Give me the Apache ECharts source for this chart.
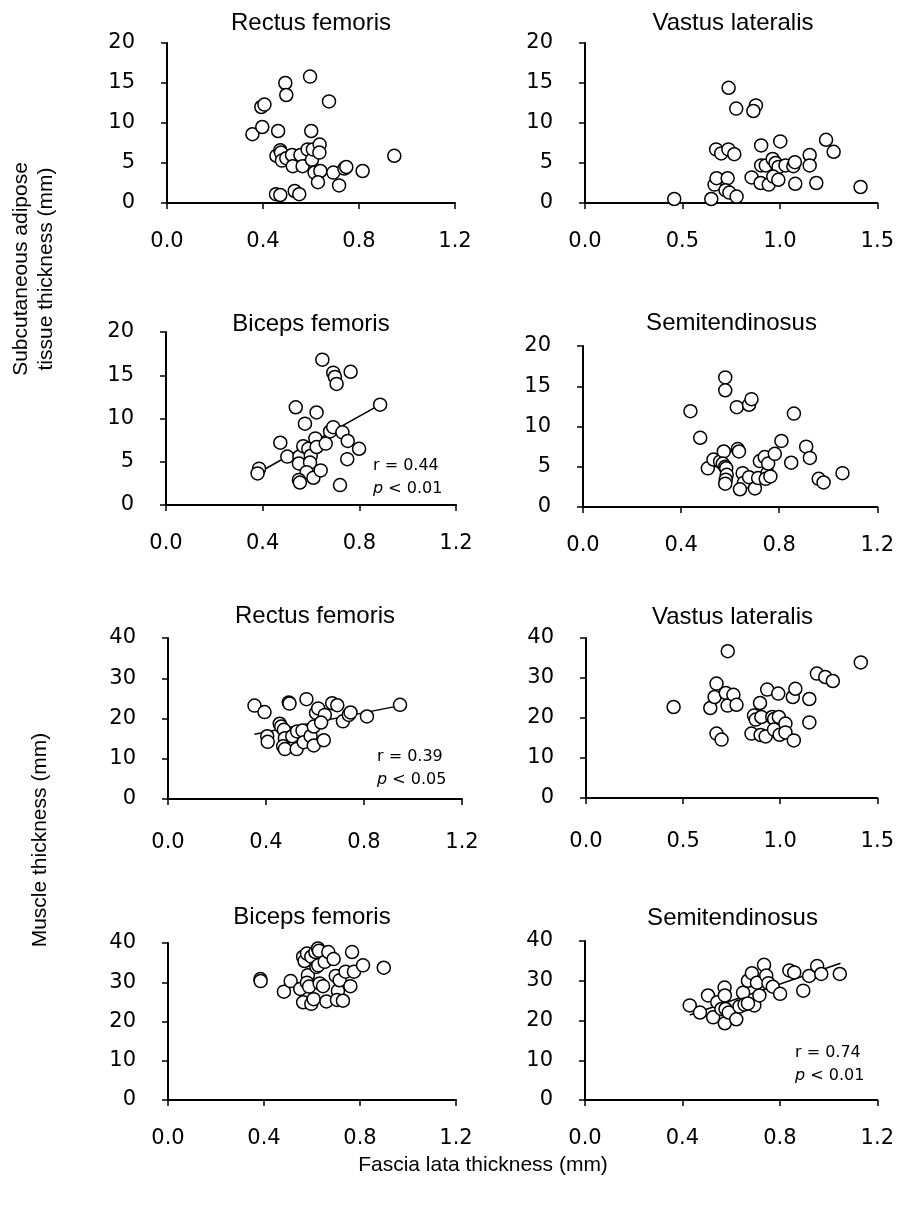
<!DOCTYPE html>
<html>
<head>
<meta charset="utf-8">
<script src="https://cdn.jsdelivr.net/npm/echarts@6/dist/echarts.min.js"></script>
<style>
  html, body { margin: 0; padding: 0; background: #fff; }
  #chart { width: 897px; height: 1208px; }
</style>
</head>
<body>
<div id="chart"></div>
<script>
// panel titles
var panelTitles = ['Rectus femoris', 'Vastus lateralis', 'Biceps femoris', 'Semitendinosus',
                   'Rectus femoris', 'Vastus lateralis', 'Biceps femoris', 'Semitendinosus'];

// subcutaneous adipose tissue thickness vs fascia lata thickness
var rfSat = [[0.356,8.6],[0.397,9.5],[0.393,12.0],[0.406,12.3],[0.463,9.0],[0.493,15.0],[0.497,13.5],[0.596,15.8],
    [0.675,12.7],[0.601,9.0],[0.456,5.9],[0.472,6.6],[0.475,6.3],[0.479,5.3],[0.497,5.6],[0.521,6.0],[0.524,4.6],
    [0.556,6.0],[0.565,4.6],[0.586,6.7],[0.604,5.4],[0.608,6.7],[0.636,7.3],[0.635,6.3],[0.615,3.8],[0.639,4.0],
    [0.629,2.6],[0.693,3.8],[0.739,4.3],[0.747,4.5],[0.717,2.2],[0.815,4.0],[0.947,5.9],[0.454,1.1],[0.472,1.0],
    [0.532,1.5],[0.551,1.1]];
var vlSat = [[0.458,0.5],[0.648,0.5],[0.673,6.7],[0.699,6.2],[0.736,6.7],[0.766,6.1],[0.665,2.3],[0.675,3.1],
    [0.732,3.1],[0.721,1.6],[0.741,1.3],[0.778,0.8],[0.737,14.4],[0.776,11.8],[0.877,12.2],[0.864,11.5],[0.855,3.2],
    [0.904,7.2],[1.002,7.7],[0.901,2.5],[0.943,2.3],[0.904,4.7],[0.928,4.7],[0.963,5.5],[0.978,5.0],[0.993,4.5],
    [0.966,3.3],[0.992,2.9],[1.029,4.7],[1.069,4.6],[1.077,5.1],[1.079,2.4],[1.153,6.0],[1.153,4.7],[1.187,2.5],
    [1.237,7.9],[1.276,6.4],[1.414,2.0]];
var bfSat = [[0.385,4.2],[0.379,3.65],[0.473,7.2],[0.502,5.6],[0.537,11.3],[0.575,9.4],[0.623,10.7],[0.647,16.8],
    [0.692,15.3],[0.699,14.8],[0.706,14.0],[0.764,15.4],[0.886,11.6],[0.552,5.6],[0.550,4.8],[0.568,6.8],[0.589,6.5],
    [0.599,5.7],[0.596,4.9],[0.582,3.8],[0.550,2.9],[0.554,2.6],[0.610,3.15],[0.640,4.0],[0.618,7.7],[0.623,6.7],
    [0.661,7.1],[0.679,8.5],[0.692,9.0],[0.730,8.4],[0.752,7.4],[0.799,6.5],[0.750,5.3],[0.720,2.3]];
var stSat = [[0.438,11.9],[0.478,8.6],[0.509,4.8],[0.532,5.9],[0.559,5.65],[0.574,6.9],[0.580,16.1],[0.580,14.5],
    [0.570,5.4],[0.580,5.0],[0.584,4.8],[0.586,4.0],[0.582,3.4],[0.580,2.9],[0.627,12.4],[0.677,12.7],[0.687,13.4],
    [0.631,7.2],[0.636,6.9],[0.651,4.2],[0.656,3.0],[0.640,2.2],[0.677,3.7],[0.701,2.3],[0.714,3.6],[0.721,5.7],
    [0.741,6.2],[0.752,4.2],[0.745,3.5],[0.764,3.8],[0.755,5.4],[0.782,6.6],[0.809,8.2],[0.849,5.5],[0.860,11.6],
    [0.910,7.5],[0.925,6.1],[0.961,3.5],[0.981,3.05],[1.058,4.2]];

// muscle thickness vs fascia lata thickness
var rfMt = [[0.353,23.2],[0.394,21.6],[0.405,15.6],[0.407,14.2],[0.456,18.7],[0.462,18.0],[0.473,17.2],[0.477,15.1],
    [0.470,13.1],[0.477,12.4],[0.493,24.0],[0.496,23.7],[0.507,15.6],[0.525,12.4],[0.527,16.8],[0.549,17.0],
    [0.554,14.1],[0.565,24.8],[0.582,15.6],[0.595,18.0],[0.595,13.3],[0.604,21.4],[0.613,22.5],[0.636,14.6],
    [0.640,20.9],[0.625,19.0],[0.670,23.8],[0.691,23.3],[0.714,19.3],[0.738,20.9],[0.745,21.5],[0.812,20.5],[0.947,23.4]];
var vlMt = [[0.451,22.75],[0.640,22.5],[0.662,25.25],[0.672,28.6],[0.672,16.1],[0.698,14.6],[0.720,26.25],[0.730,36.7],
    [0.729,23.1],[0.759,25.8],[0.775,23.3],[0.852,16.1],[0.865,20.6],[0.874,19.6],[0.896,23.75],[0.903,20.25],
    [0.899,15.75],[0.925,15.4],[0.933,27.1],[0.959,20.25],[0.969,19.75],[0.968,17.1],[0.990,26.1],[0.993,20.25],
    [0.997,15.8],[1.027,18.6],[1.027,16.4],[1.070,14.4],[1.065,25.25],[1.078,27.3],[1.150,24.75],[1.150,18.9],
    [1.189,31.1],[1.232,30.25],[1.271,29.25],[1.415,33.9]];
var bfMt = [[0.385,30.8],[0.386,30.3],[0.483,27.6],[0.511,30.3],[0.551,28.3],[0.563,24.9],[0.563,36.5],[0.569,35.4],
    [0.579,37.3],[0.583,31.8],[0.579,29.9],[0.588,28.9],[0.597,24.5],[0.607,25.7],[0.597,36.5],[0.614,37.7],
    [0.625,38.6],[0.629,38.0],[0.618,33.9],[0.626,34.3],[0.632,29.7],[0.646,29.0],[0.653,35.2],[0.668,37.7],
    [0.690,35.9],[0.660,25.1],[0.699,31.6],[0.708,27.8],[0.715,30.5],[0.704,25.5],[0.729,25.3],[0.740,32.7],
    [0.760,29.0],[0.767,37.7],[0.775,32.7],[0.8125,34.3],[0.899,33.7]];
var stMt = [[0.430,23.8],[0.472,22.0],[0.505,26.3],[0.526,20.8],[0.543,24.6],[0.560,22.9],[0.573,28.3],[0.574,26.3],
    [0.577,22.9],[0.574,19.3],[0.590,22.0],[0.621,20.3],[0.634,23.5],[0.649,27.0],[0.669,30.0],[0.685,31.9],
    [0.695,23.8],[0.706,29.5],[0.716,26.3],[0.735,34.0],[0.744,31.3],[0.753,29.4],[0.771,28.5],[0.801,26.7],
    [0.839,32.6],[0.859,32.1],[0.896,27.5],[0.920,31.2],[0.953,33.7],[0.970,31.7],[1.046,31.7],[0.655,24.0],[0.669,24.3]];

// regression lines (end points)
var bfSatFit = [[0.38,3.7],[0.886,11.6]];
var rfMtFit = [[0.353,16.1],[0.947,23.2]];
var stMtFit = [[0.43,21.4],[1.049,34.4]];

// axis ranges
var xMaxList = [1.2, 1.5, 1.2, 1.2, 1.2, 1.5, 1.2, 1.2];
var xStepList = [0.4, 0.5, 0.4, 0.4, 0.4, 0.5, 0.4, 0.4];
var yMaxList = [20, 20, 20, 20, 40, 40, 40, 40];
var yStepList = [5, 5, 5, 5, 10, 10, 10, 10];

var panelData = [rfSat, vlSat, bfSat, stSat, rfMt, vlMt, bfMt, stMt];
var fitData = {2: bfSatFit, 4: rfMtFit, 7: stMtFit};
var statText = {2: ['r = 0.44', '0.01'], 4: ['r = 0.39', '0.05'], 7: ['r = 0.74', '0.01']};

// layout
var grids = [
    {left: 167, top: 43, width: 288, height: 160},
    {left: 585, top: 43, width: 296, height: 160},
    {left: 166, top: 332, width: 290, height: 173},
    {left: 583, top: 346, width: 297, height: 161},
    {left: 168, top: 638, width: 294, height: 161},
    {left: 586, top: 638, width: 293, height: 160},
    {left: 168, top: 943, width: 288, height: 157},
    {left: 585, top: 941, width: 295, height: 159}
];
var titleY = [23, 23, 324, 323, 616, 617, 917, 918];
var xLabelMargin = [28, 28, 28, 28, 33, 33, 28, 28];
var statPos = {2: [373, 466], 4: [377, 757], 7: [795, 1053]};

var tickFont = 'DejaVu Sans';
var textFont = 'Liberation Sans, Arial, sans-serif';

var chart = echarts.init(document.getElementById('chart'));

var xAxes = [], yAxes = [], series = [], graphics = [];
for (var i = 0; i < 8; i++) {
    grids[i].containLabel = false;
    xAxes.push({
        type: 'value', gridIndex: i, min: 0, max: xMaxList[i], interval: xStepList[i],
        splitLine: {show: false},
        axisLine: {onZero: false, lineStyle: {color: '#000', width: 2}},
        axisTick: {length: 6, lineStyle: {color: '#000', width: 1.5}},
        axisLabel: {
            color: '#000', fontSize: 21, fontFamily: tickFont, margin: xLabelMargin[i],
            formatter: function (v) { return v.toFixed(1); }
        }
    });
    yAxes.push({
        type: 'value', gridIndex: i, min: 0, max: yMaxList[i], interval: yStepList[i],
        splitLine: {show: false},
        axisLine: {show: true, onZero: false, lineStyle: {color: '#000', width: 2}},
        axisTick: {show: true, length: 6, lineStyle: {color: '#000', width: 1.5}},
        axisLabel: {color: '#000', fontSize: 21, fontFamily: tickFont, margin: 32}
    });
    if (fitData[i]) {
        series.push({
            type: 'line', xAxisIndex: i, yAxisIndex: i, data: fitData[i],
            showSymbol: false, symbol: 'none', silent: true, z: 2,
            lineStyle: {color: '#000', width: 1.5}
        });
    }
    series.push({
        type: 'scatter', xAxisIndex: i, yAxisIndex: i, data: panelData[i],
        symbol: 'circle', symbolSize: 13, z: 3,
        itemStyle: {color: '#fff', borderColor: '#000', borderWidth: 1.5, opacity: 1}
    });
    graphics.push({
        type: 'text', x: grids[i].left + grids[i].width / 2, y: titleY[i],
        style: {text: panelTitles[i], font: '24px ' + textFont, fill: '#000',
                textAlign: 'center', textVerticalAlign: 'middle'}
    });
    if (statText[i]) {
        graphics.push({
            type: 'text', x: statPos[i][0], y: statPos[i][1],
            style: {text: statText[i][0], font: '16px ' + tickFont, fill: '#000',
                    textAlign: 'left', textVerticalAlign: 'middle'}
        });
        graphics.push({
            type: 'text', x: statPos[i][0], y: statPos[i][1] + 23,
            style: {
                text: '{i|p} < ' + statText[i][1], fill: '#000',
                fontSize: 16, fontFamily: tickFont, align: 'left', verticalAlign: 'middle',
                rich: {i: {fontStyle: 'italic', fontSize: 16, fontFamily: tickFont}}
            }
        });
    }
}

// axis names
graphics.push({
    type: 'text', x: 21, y: 269, rotation: Math.PI / 2,
    style: {text: 'Subcutaneous adipose', font: '21px ' + textFont, fill: '#000',
            textAlign: 'center', textVerticalAlign: 'middle'}
});
graphics.push({
    type: 'text', x: 46, y: 269, rotation: Math.PI / 2,
    style: {text: 'tissue thickness (mm)', font: '21px ' + textFont, fill: '#000',
            textAlign: 'center', textVerticalAlign: 'middle'}
});
graphics.push({
    type: 'text', x: 40, y: 840, rotation: Math.PI / 2,
    style: {text: 'Muscle thickness (mm)', font: '21px ' + textFont, fill: '#000',
            textAlign: 'center', textVerticalAlign: 'middle'}
});
graphics.push({
    type: 'text', x: 483, y: 1165,
    style: {text: 'Fascia lata thickness (mm)', font: '21px ' + textFont, fill: '#000',
            textAlign: 'center', textVerticalAlign: 'middle'}
});

chart.setOption({
    animation: false,
    backgroundColor: '#fff',
    grid: grids,
    xAxis: xAxes,
    yAxis: yAxes,
    series: series,
    graphic: graphics
});
</script>
</body>
</html>
